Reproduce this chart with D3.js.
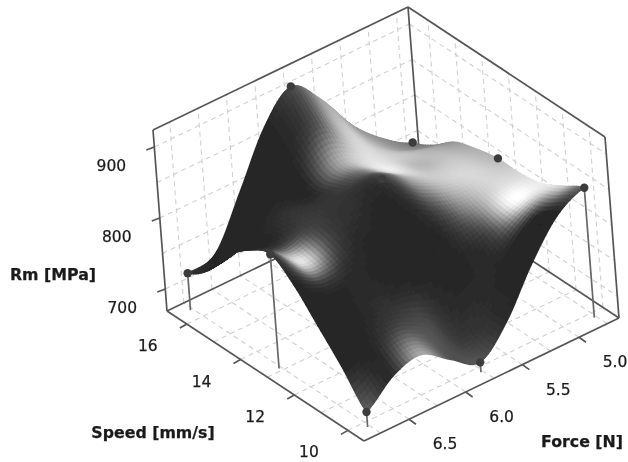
<!DOCTYPE html>
<html>
<head>
<meta charset="utf-8">
<script src="https://cdn.jsdelivr.net/npm/d3@7/dist/d3.min.js"></script>
<style>
html,body{margin:0;padding:0;background:#fff;}
svg{display:block;filter:blur(0.6px);}
text{font-family:"DejaVu Sans",sans-serif;fill:#1a1a1a;stroke:#1a1a1a;stroke-width:0.25px;}
</style>
</head>
<body>
<svg id="chart" width="628" height="462"></svg>
<script>
// ---- data ----
const forceTicks = [5.0, 5.5, 6.0, 6.5];
const speedTicks = [10, 12, 14, 16];
const rmTicks = [700, 800, 900];
const forceGrid = [4.75,5.0,5.25,5.5,5.75,6.0,6.25,6.5,6.75]; // gridline positions
const speedGrid = [10,11,12,13,14,15,16];
const rmGrid = [700,750,800,850,900];

const surfaceForce = [6.77,6.52,6.27,6.02,5.77,5.52,5.27,5.02,4.77];
const surfaceSpeed = [9.8,10.625,11.45,12.275,13.1,13.925,14.75,15.575,16.4];
// rows follow surfaceSpeed, columns follow surfaceForce
const surfaceRm = [
 [690,721,732,706,683,720,782,831,852],
 [732,745,750,730,700,725,775,812,834],
 [770,770,770,770,770,775,790,805,817],
 [807,790,795,815,835,815,805,808,811],
 [830,800,810,845,859,838,820,812,811],
 [815,800,815,835,846,830,818,810,804],
 [787,790,810,825,841,825,810,800,793],
 [745,755,792,845,873,845,805,780,768],
 [721,730,798,870,907,870,814,776,751]
];
// grey level of the surface at the same nodes
const surfaceGrey = [
 [ 95, 45,170, 85, 85, 45, 38, 38, 90],
 [ 38, 40, 70, 80, 55, 45, 38, 50,210],
 [ 38, 38, 45, 40, 38, 40, 80,240,235],
 [ 38, 60, 45, 38, 40, 70,150,215,215],
 [ 50,230, 75, 48, 60,170,205,215,185],
 [ 38, 60, 60, 55,110,235,185,195,175],
 [ 38, 38, 48, 45,165,225,205,175,150],
 [ 38, 38, 38, 38, 80,200,190,150,130],
 [ 50, 38, 38, 38, 75,165,150,140,110]
];
const pointForce = [6.77,6.77,6.77,5.77,5.77,5.77,4.77,4.77,4.77];
const pointSpeed = [9.8,13.1,16.4,9.8,13.1,16.4,9.8,13.1,16.4];
const pointRm = [690,830,721,683,859,907,852,811,751];

// ---- oblique projection built from three linear scales ----
const uScale = d3.scaleLinear().domain([6.897,4.647]).range([0,1]);
const vScale = d3.scaleLinear().domain([9.4,16.74]).range([0,1]);
const wScale = d3.scaleLinear().domain([669,924]).range([0,1]);
const origin = [364,441], uVec = [255,-123], vVec = [-197,-130], wVec = [-14,-181];
function project(f,s,z){
  const u=uScale(f), v=vScale(s), w=wScale(z);
  return [origin[0]+u*uVec[0]+v*vVec[0]+w*wVec[0],
          origin[1]+u*uVec[1]+v*vVec[1]+w*wVec[1]];
}
const fMax=uScale.domain()[0], fMin=uScale.domain()[1];
const sMin=vScale.domain()[0], sMax=vScale.domain()[1];
const zMin=wScale.domain()[0], zMax=wScale.domain()[1];

const svg = d3.select("#chart");
const defs = svg.append("defs");
defs.append("filter").attr("id","soft").attr("x","-5%").attr("y","-5%").attr("width","110%").attr("height","110%")
  .append("feGaussianBlur").attr("stdDeviation",0.4);
const line = d3.line();
const gGrid = svg.append("g").attr("fill","none").attr("stroke","#d0d0d0").attr("stroke-width",1.1).attr("stroke-dasharray","5,4");
function gridLine(a,b){ gGrid.append("path").attr("d",line([a,b])); }
forceGrid.forEach(f=>{
  gridLine(project(f,sMax,zMin),project(f,sMax,zMax));
  gridLine(project(f,sMin,zMin),project(f,sMax,zMin));
});
speedGrid.forEach(s=>{
  gridLine(project(fMin,s,zMin),project(fMin,s,zMax));
  gridLine(project(fMax,s,zMin),project(fMin,s,zMin));
});
rmGrid.forEach(z=>{
  gridLine(project(fMax,sMax,z),project(fMin,sMax,z));
  gridLine(project(fMin,sMax,z),project(fMin,sMin,z));
});

// box edges
const gBox = svg.append("g").attr("fill","none").attr("stroke","#555").attr("stroke-width",1.7);
[
 [[fMax,sMax,zMin],[fMax,sMax,zMax]],
 [[fMin,sMin,zMin],[fMin,sMin,zMax]],
 [[fMin,sMax,zMin],[fMin,sMax,zMax]],
 [[fMax,sMax,zMax],[fMin,sMax,zMax]],
 [[fMin,sMax,zMax],[fMin,sMin,zMax]],
 [[fMax,sMax,zMin],[fMax,sMin,zMin]],
 [[fMax,sMin,zMin],[fMin,sMin,zMin]],
 [[fMax,sMax,zMin],[fMin,sMax,zMin]],
 [[fMin,sMax,zMin],[fMin,sMin,zMin]]
].forEach(e=>gBox.append("path").attr("d",line([project(...e[0]),project(...e[1])])));

// ticks
rmTicks.forEach(z=>{
  const p=project(fMax,sMax,z);
  gBox.append("path").attr("d",line([p,[p[0]-8,p[1]+3]]));
  svg.append("text").attr("x",p[0]-43).attr("y",p[1]+24).attr("text-anchor","middle").attr("font-size",15.5).text(z);
});
speedTicks.forEach(s=>{
  const p=project(fMax,s,zMin);
  gBox.append("path").attr("d",line([p,[p[0]-7,p[1]+4]]));
  svg.append("text").attr("x",p[0]-39).attr("y",p[1]+27).attr("text-anchor","middle").attr("font-size",15.5).text(s);
});
forceTicks.forEach(f=>{
  const p=project(f,sMin,zMin);
  gBox.append("path").attr("d",line([p,[p[0]+7,p[1]+5]]));
  svg.append("text").attr("x",p[0]+36).attr("y",p[1]+30).attr("text-anchor","middle").attr("font-size",15.5).text(f.toFixed(1));
});
svg.append("text").attr("x",53).attr("y",280).attr("text-anchor","middle").attr("font-size",15.8).attr("font-weight","bold").text("Rm [MPa]");
svg.append("text").attr("x",153).attr("y",438).attr("text-anchor","middle").attr("font-size",15.8).attr("font-weight","bold").text("Speed [mm/s]");
svg.append("text").attr("x",582).attr("y",447).attr("text-anchor","middle").attr("font-size",15.8).attr("font-weight","bold").text("Force [N]");

// stems under the surface
const gStem = svg.append("g").attr("stroke","#666").attr("stroke-width",1.7);
pointRm.forEach((z,k)=>{
  gStem.append("path").attr("d",line([project(pointForce[k],pointSpeed[k],zMin),project(pointForce[k],pointSpeed[k],z)]));
});

// smooth rendering of the read grid (Catmull-Rom through the nodes)
function cr(p0,p1,p2,p3,t){
  return 0.5*((2*p1)+(-p0+p2)*t+(2*p0-5*p1+4*p2-p3)*t*t+(-p0+3*p1-3*p2+p3)*t*t*t);
}
function sample(g,x,y){
  const n=g.length-1, m=g[0].length-1;
  const j=Math.min(Math.floor(y),n-1), i=Math.min(Math.floor(x),m-1);
  const ty=y-j, tx=x-i, row=[];
  for(let r=j-1;r<=j+2;r++){
    const R=g[Math.max(0,Math.min(n,r))];
    row.push(cr(R[Math.max(0,i-1)],R[i],R[i+1],R[Math.min(m,i+2)],tx));
  }
  return cr(row[0],row[1],row[2],row[3],ty);
}
const sub=8, N=(surfaceForce.length-1)*sub;
const iScale=d3.scaleLinear().domain([0,N]).range([0,surfaceForce.length-1]);
const fAt=d3.scaleLinear().domain(d3.range(surfaceForce.length)).range(surfaceForce);
const sAt=d3.scaleLinear().domain(d3.range(surfaceSpeed.length)).range(surfaceSpeed);
const grey=d3.scaleLinear().domain([0,255]).range(["#000","#fff"]).clamp(true);
const quads=[];
function P(a,b){const x=iScale(a),y=iScale(b);return project(fAt(x),sAt(y),sample(surfaceRm,x,y));}
for(let b=0;b<N;b++)for(let a=0;a<N;a++){
  quads.push({a,b,d:"M"+[P(a,b),P(a+1,b),P(a+1,b+1),P(a,b+1)].join("L")+"Z",
    c:grey(Math.max(38,sample(surfaceGrey,iScale(a+.5),iScale(b+.5))))});
}
quads.sort((p,q)=>(q.a+q.b)-(p.a+p.b));
svg.append("g").attr("filter","url(#soft)").attr("shape-rendering","crispEdges").selectAll("path").data(quads).join("path")
  .attr("d",d=>d.d).attr("fill",d=>d.c).attr("stroke",d=>d.c).attr("stroke-width",0.9).attr("stroke-linejoin","round");

// data points
svg.append("g").selectAll("circle").data(pointRm).join("circle")
  .attr("cx",(z,k)=>project(pointForce[k],pointSpeed[k],z)[0])
  .attr("cy",(z,k)=>project(pointForce[k],pointSpeed[k],z)[1])
  .attr("r",4.2).attr("fill","#3c3c3c");
</script>
</body>
</html>
